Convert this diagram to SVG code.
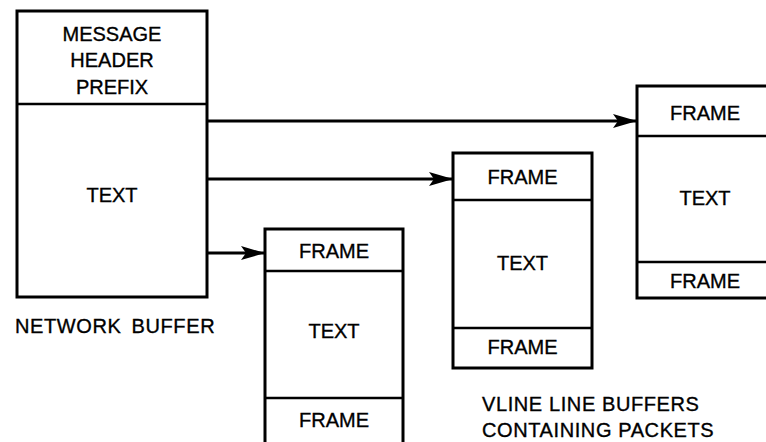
<svg xmlns="http://www.w3.org/2000/svg" width="766" height="442" viewBox="0 0 766 442">
<style>
.box{fill:#fff;stroke:#000;stroke-width:3}
.div{stroke:#000;stroke-width:2.5;fill:none}
.lbl{font-family:"Liberation Sans",Arial,Helvetica,sans-serif;font-size:20px;fill:#000;stroke:#000;stroke-width:0.35;text-anchor:middle}
.cap{font-family:"Liberation Sans",Arial,Helvetica,sans-serif;font-size:20px;fill:#000;stroke:#000;stroke-width:0.35;letter-spacing:0.6px}
.conn{stroke:#000;stroke-width:3;fill:none}
</style>
<defs>
<marker id="arr" markerUnits="userSpaceOnUse" markerWidth="26" markerHeight="18" refX="24" refY="9" orient="auto">
<path d="M0,2 L24,9 L0,16 L5,9 Z" fill="#000"/>
</marker>
</defs>
<rect width="766" height="442" fill="#fff"/>
<g id="connectors">
<line class="conn" x1="207" y1="121" x2="637" y2="121" marker-end="url(#arr)"/>
<line class="conn" x1="207" y1="179" x2="453" y2="179" marker-end="url(#arr)"/>
<line class="conn" x1="207" y1="253" x2="265" y2="253" marker-end="url(#arr)"/>
</g>
<g id="network-buffer">
<rect class="box" x="17" y="11" width="190" height="286"/>
<line class="div" x1="17" y1="104" x2="207" y2="104"/>
<text class="lbl" x="112" y="41">MESSAGE</text>
<text class="lbl" x="112" y="67">HEADER</text>
<text class="lbl" x="112" y="94">PREFIX</text>
<text class="lbl" x="112" y="202">TEXT</text>
<text class="cap" x="15" y="333" letter-spacing="0.2" word-spacing="4">NETWORK BUFFER</text>
</g>
<g id="vline-buffer-1">
<rect class="box" x="265" y="229" width="138" height="220"/>
<line class="div" x1="265" y1="271" x2="403" y2="271"/>
<line class="div" x1="265" y1="398" x2="403" y2="398"/>
<text class="lbl" x="334" y="258">FRAME</text>
<text class="lbl" x="334" y="338">TEXT</text>
<text class="lbl" x="334" y="427">FRAME</text>
</g>
<g id="vline-buffer-2">
<rect class="box" x="453" y="153" width="139" height="215"/>
<line class="div" x1="453" y1="200" x2="592" y2="200"/>
<line class="div" x1="453" y1="328" x2="592" y2="328"/>
<text class="lbl" x="522.5" y="184">FRAME</text>
<text class="lbl" x="522.5" y="270">TEXT</text>
<text class="lbl" x="522.5" y="354">FRAME</text>
</g>
<g id="vline-buffer-3">
<rect class="box" x="637" y="86" width="138" height="212"/>
<line class="div" x1="637" y1="136" x2="775" y2="136"/>
<line class="div" x1="637" y1="262" x2="775" y2="262"/>
<text class="lbl" x="705" y="120">FRAME</text>
<text class="lbl" x="705" y="205">TEXT</text>
<text class="lbl" x="705" y="288">FRAME</text>
</g>
<g id="caption">
<text class="cap" x="482" y="411">VLINE LINE BUFFERS</text>
<text class="cap" x="482" y="437">CONTAINING PACKETS</text>
</g>
</svg>
